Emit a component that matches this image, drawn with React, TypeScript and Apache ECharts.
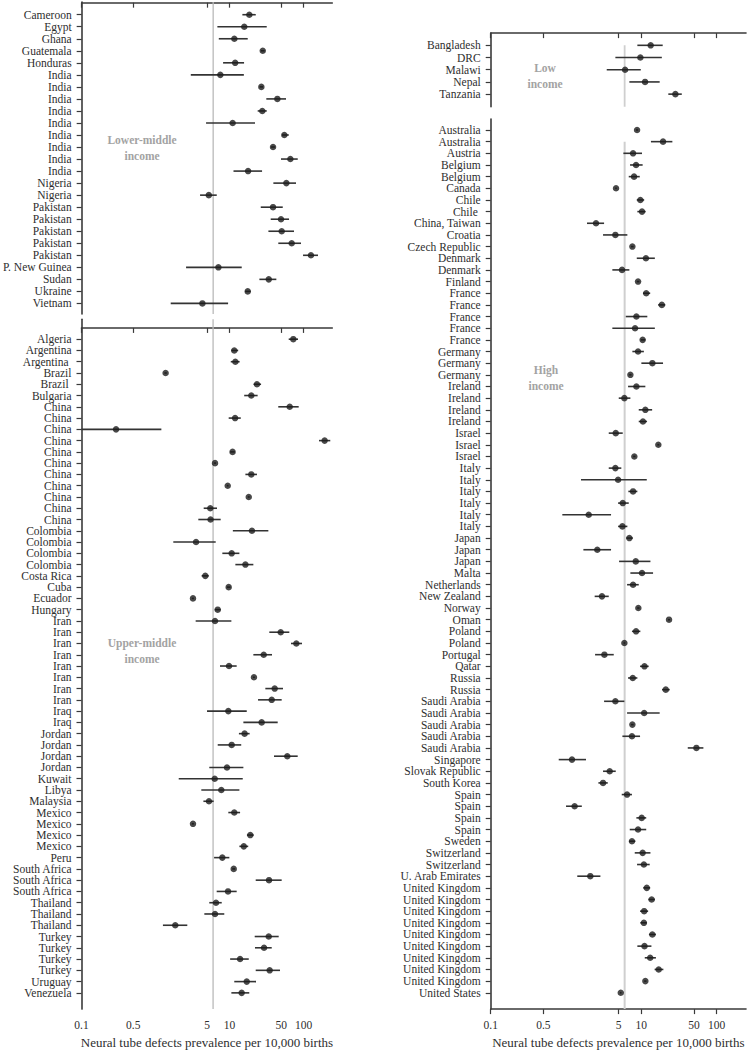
import React, { useEffect, useRef } from "react";
import * as echarts from "echarts";

// ---------- DATA ----------
const X_TICKS = [0.1, 0.5, 5, 10, 50, 100];
const X_TICK_LABELS = ["0.1", "0.5", "5", "10", "50", "100"];
const X_MIN = 0.1;
const X_MAX = 245;
const REF_VALUE = 6;
const X_TITLE = "Neural tube defects prevalence per 10,000 births";

const LM_NAMES = ["Cameroon", "Egypt", "Ghana", "Guatemala", "Honduras", "India", "India", "India", "India", "India", "India", "India", "India", "India", "Nigeria", "Nigeria", "Pakistan", "Pakistan", "Pakistan", "Pakistan", "Pakistan", "P. New Guinea", "Sudan", "Ukraine", "Vietnam"];
const LM_EST = [18.5, 15.8, 11.6, 28.1, 11.9, 7.5, 26.9, 44.3, 27.7, 11.0, 55.0, 38.7, 66.4, 17.8, 58.6, 5.24, 38.7, 49.6, 50.7, 69.2, 126, 7.06, 33.9, 17.6, 4.29];
const LM_LO = [14.9, 6.84, 7.15, 26.5, 8.17, 2.99, 25.5, 31.4, 24.0, 4.81, 51.2, 36.5, 49.6, 11.3, 39.1, 3.99, 26.4, 36.0, 33.5, 45.6, 98.5, 2.58, 25.3, 16.2, 1.6];
const LM_HI = [22.6, 31.8, 17.6, 29.8, 15.7, 15.6, 28.4, 58.0, 31.8, 22.1, 63.1, 41.0, 83.5, 27.5, 79.2, 6.71, 52.4, 63.7, 74.4, 92.5, 157, 14.6, 42.9, 19.3, 9.55];

const UM_NAMES = ["Algeria", "Argentina", "Argentina ", "Brazil", "Brazil ", "Bulgaria", "China", "China", "China", "China", "China", "China", "China", "China", "China", "China", "China", "Colombia", "Colombia", "Colombia", "Colombia", "Costa Rica", "Cuba", "Ecuador", "Hungary", "Iran", "Iran", "Iran", "Iran", "Iran", "Iran", "Iran", "Iran", "Iraq", "Iraq", "Jordan", "Jordan", "Jordan", "Jordan", "Kuwait", "Libya", "Malaysia", "Mexico", "Mexico", "Mexico", "Mexico", "Peru", "South Africa", "South Africa", "South Africa", "Thailand", "Thailand", "Thailand", "Turkey", "Turkey", "Turkey", "Turkey", "Uruguay", "Venezuela"];
const UM_EST = [72.8, 11.6, 12.0, 1.37, 23.5, 19.7, 65.1, 11.9, 0.293, 193, 11.0, 6.37, 19.7, 9.46, 18.2, 5.5, 5.55, 20.1, 3.53, 10.7, 16.4, 4.71, 9.75, 3.21, 6.93, 6.37, 49.2, 80, 29.0, 9.85, 21.4, 40.8, 37.2, 9.64, 27.2, 16.0, 10.7, 60.4, 9.25, 6.31, 7.75, 5.28, 11.6, 3.21, 19.1, 15.6, 8.0, 11.4, 34.2, 9.55, 6.57, 6.37, 1.85, 33.9, 29.3, 13.9, 34.9, 17.1, 14.6];
const UM_LO = [63.1, 10.6, 10.4, 1.32, 21.2, 15.8, 45.6, 9.75, 0.1, 162, 10.2, 6.2, 16.4, 9.2, 17.7, 4.48, 3.79, 11.1, 1.74, 8.0, 12.0, 4.2, 9.2, 3.1, 6.31, 3.49, 34.5, 67.8, 21.0, 7.44, 20.8, 30.5, 24.3, 4.97, 15.4, 13.4, 6.93, 39.9, 5.33, 2.06, 4.16, 4.44, 9.64, 3.1, 17.2, 13.6, 6.19, 10.9, 22.6, 6.71, 5.33, 4.57, 1.26, 21.9, 22.1, 10.2, 22.6, 11.6, 10.6];
const UM_HI = [84.3, 13.1, 13.7, 1.42, 26.7, 24.0, 86.1, 14.2, 1.2, 230, 11.8, 6.55, 23.5, 9.7, 18.7, 6.78, 7.6, 33.5, 6.51, 13.6, 21.0, 5.24, 10.3, 3.3, 7.6, 10.6, 64.3, 95.4, 37.5, 12.5, 22.0, 52.8, 50.7, 17.1, 44.8, 18.7, 14.4, 83.5, 15.4, 15.1, 13.6, 6.11, 13.9, 3.3, 21.2, 17.9, 9.95, 11.9, 50.7, 12.5, 7.85, 8.5, 2.69, 46.2, 37.2, 18.2, 48.1, 22.8, 18.5];

const LOW_NAMES = ["Bangladesh", "DRC", "Malawi", "Nepal", "Tanzania"];
const LOW_EST = [13.3, 9.7, 6.08, 11.2, 28.3];
const LOW_LO = [8.85, 4.52, 3.47, 6.93, 22.8];
const LOW_HI = [19.2, 18.7, 9.82, 17.5, 34.4];

const HI_NAMES = ["Australia", "Australia", "Austria", "Belgium", "Belgium", "Canada", "Chile", "Chile ", "China, Taiwan", "Croatia", "Czech Republic", "Denmark", "Denmark", "Finland", "France", "France", "France", "France", "France", "Germany", "Germany", "Germany", "Ireland", "Ireland", "Ireland", "Ireland", "Israel", "Israel", "Israel", "Italy", "Italy", "Italy", "Italy", "Italy", "Italy", "Japan", "Japan", "Japan", "Malta", "Netherlands", "New Zealand", "Norway", "Oman", "Poland", "Poland", "Portugal", "Qatar", "Russia", "Russia", "Saudi Arabia", "Saudi Arabia", "Saudi Arabia", "Saudi Arabia", "Saudi Arabia", "Singapore", "Slovak Republic", "South Korea", "Spain", "Spain", "Spain", "Spain", "Sweden", "Switzerland", "Switzerland", "U. Arab Emirates", "United Kingdom", "United Kingdom", "United Kingdom", "United Kingdom", "United Kingdom", "United Kingdom", "United Kingdom", "United Kingdom", "United Kingdom", "United States"];
const HI_EST = [8.77, 19.4, 7.76, 8.5, 8.0, 4.61, 9.7, 10.2, 2.5, 4.52, 7.6, 11.5, 5.54, 9.04, 11.6, 18.7, 8.59, 8.25, 10.4, 9.04, 14.0, 7.15, 8.59, 5.95, 11.3, 10.5, 4.57, 16.8, 8.07, 4.52, 4.91, 7.76, 5.66, 2.0, 5.6, 6.93, 2.6, 8.43, 10.2, 7.76, 3.0, 9.12, 23.3, 8.5, 5.95, 3.23, 11.0, 7.69, 21.1, 4.52, 10.9, 7.6, 7.5, 53.8, 1.2, 3.8, 3.1, 6.46, 1.3, 10.1, 9.04, 7.5, 10.4, 10.8, 2.1, 11.8, 13.7, 10.9, 10.8, 14.0, 11.0, 13.1, 17.0, 11.3, 5.33];
const HI_LO = [8.5, 13.4, 5.77, 7.08, 6.8, 4.5, 8.69, 8.85, 1.9, 3.1, 7.3, 8.69, 4.12, 8.7, 10.5, 16.7, 6.21, 4.12, 9.8, 7.6, 10.0, 6.9, 6.66, 5.01, 9.23, 9.23, 3.69, 16.3, 7.8, 3.69, 1.58, 6.72, 4.91, 0.893, 4.91, 6.3, 1.7, 5.06, 7.15, 6.46, 2.4, 8.8, 22.6, 7.5, 5.8, 2.43, 9.61, 6.66, 18.8, 3.2, 6.46, 7.3, 5.6, 41.3, 0.8, 3.1, 2.69, 5.49, 1.0, 8.59, 7.01, 6.87, 8.17, 8.77, 1.41, 10.6, 12.4, 9.61, 9.7, 12.6, 8.85, 11.1, 15.0, 10.9, 5.2];
const HI_HI = [9.05, 25.8, 10.2, 10.4, 9.52, 4.72, 10.9, 11.4, 3.2, 6.52, 7.9, 15.1, 6.93, 9.4, 13.1, 20.8, 12.0, 15.1, 11.3, 10.8, 19.4, 7.4, 11.3, 7.15, 13.9, 11.9, 5.66, 17.3, 8.35, 5.42, 11.8, 8.85, 6.8, 3.96, 6.52, 7.7, 3.96, 13.2, 14.3, 9.23, 3.69, 9.45, 24.0, 9.7, 6.1, 4.3, 12.5, 8.85, 23.8, 5.95, 17.5, 7.9, 9.61, 66.6, 1.84, 4.57, 3.58, 7.5, 1.62, 11.6, 11.6, 8.33, 13.2, 12.9, 2.86, 13.1, 15.1, 12.3, 11.8, 15.6, 13.6, 15.6, 19.6, 11.7, 5.45];

// ---------- PANELS ----------
type Panel = {
  names: string[]; est: number[]; lo: number[]; hi: number[];
  left: number; top: number; width: number; height: number;
  yMin: number; yMax: number; refFrom: number; showXLabels: boolean;
  refColor: string; refWidth: number;
};

const PANELS: Panel[] = [
  { names: LM_NAMES, est: LM_EST, lo: LM_LO, hi: LM_HI, left: 81.5, top: 2, width: 250.8, height: 312, yMin: -0.056, yMax: 25.88, refFrom: -0.056, showXLabels: false, refColor: "#b9b9b9", refWidth: 1.3 },
  { names: UM_NAMES, est: UM_EST, lo: UM_LO, hi: UM_HI, left: 81.5, top: 319.3, width: 250.8, height: 694, yMin: -0.764, yMax: 60.44, refFrom: -0.764, showXLabels: true, refColor: "#b9b9b9", refWidth: 1.3 },
  { names: LOW_NAMES, est: LOW_EST, lo: LOW_LO, hi: LOW_HI, left: 490.7, top: 33, width: 255.3, height: 73.7, yMin: -0.01, yMax: 6.03, refFrom: 1, showXLabels: false, refColor: "#cfcfcf", refWidth: 1.8 },
  { names: HI_NAMES, est: HI_EST, lo: HI_LO, hi: HI_HI, left: 490.7, top: 119, width: 255.3, height: 891, yMin: 0.057, yMax: 76.4, refFrom: 2, showXLabels: true, refColor: "#cfcfcf", refWidth: 2 },
];

const GROUP_LABELS = [
  { lines: ["Lower-middle", "income"], x: 142, y: 140 },
  { lines: ["Upper-middle", "income"], x: 142, y: 643 },
  { lines: ["Low", "income"], x: 545, y: 68 },
  { lines: ["High", "income"], x: 546, y: 370 },
];

const FONT = "'Liberation Serif', 'DejaVu Serif', serif";
const AXIS_COLOR = "#3a3a3a";
const TEXT_COLOR = "#2e2e2e";

function tickLabel(v: number): string {
  let best = 0;
  for (let i = 0; i < X_TICKS.length; i++) {
    if (Math.abs(Math.log(X_TICKS[i]) - Math.log(v)) < Math.abs(Math.log(X_TICKS[best]) - Math.log(v))) best = i;
  }
  return X_TICK_LABELS[best];
}

function buildOption() {
  const grid: any[] = [];
  const xAxis: any[] = [];
  const yAxis: any[] = [];
  const series: any[] = [];

  PANELS.forEach((p, i) => {
    grid.push({ left: p.left, top: p.top, width: p.width, height: p.height, containLabel: false });
    xAxis.push({
      type: "log",
      logBase: 10,
      gridIndex: i,
      min: X_MIN,
      max: X_MAX,
      axisLine: { show: true, lineStyle: { color: AXIS_COLOR, width: 1.6 } },
      axisTick: { show: true, length: 5, lineStyle: { color: AXIS_COLOR, width: 1.2 }, customValues: X_TICKS },
      axisLabel: {
        show: p.showXLabels,
        customValues: X_TICKS,
        formatter: (v: number) => tickLabel(v),
        fontFamily: FONT,
        fontSize: 11.5,
        color: TEXT_COLOR,
        margin: 10,
        showMinLabel: true,
        showMaxLabel: true,
        hideOverlap: false,
      },
      minorTick: { show: false },
      splitLine: { show: false },
      name: p.showXLabels ? X_TITLE : "",
      nameLocation: "middle",
      nameGap: 25,
      nameTextStyle: { fontFamily: FONT, fontSize: 13, color: TEXT_COLOR },
    });
    const rows = p.names.map((_, k) => k + 1);
    // dummy (empty) labels at the axis ends absorb ECharts' min/max label hiding
    const labelValues = [p.yMin, ...rows, p.yMax];
    yAxis.push({
      type: "value",
      gridIndex: i,
      inverse: true,
      min: p.yMin,
      max: p.yMax,
      axisLine: { show: true, lineStyle: { color: AXIS_COLOR, width: 1.6 } },
      axisTick: { show: true, length: 5, lineStyle: { color: AXIS_COLOR, width: 1.2 }, customValues: rows },
      axisLabel: {
        show: true,
        customValues: labelValues,
        formatter: (v: number) => {
          const r = Math.round(v);
          if (Math.abs(v - r) > 0.01) return "";
          return p.names[r - 1] ?? "";
        },
        fontFamily: FONT,
        fontSize: 11.5,
        color: TEXT_COLOR,
        margin: 10,
        showMinLabel: false,
        showMaxLabel: false,
        hideOverlap: false,
      },
      splitLine: { show: false },
    });

    // reference line
    series.push({
      type: "line",
      xAxisIndex: i,
      yAxisIndex: i,
      data: [[REF_VALUE, p.refFrom], [REF_VALUE, p.yMax]],
      symbol: "none",
      lineStyle: { color: p.refColor, width: p.refWidth },
      z: 1,
      silent: true,
    });

    // error bars
    series.push({
      type: "custom",
      xAxisIndex: i,
      yAxisIndex: i,
      data: p.names.map((_, k) => [p.lo[k], p.hi[k], k + 1]),
      encode: { x: [0, 1], y: 2 },
      renderItem: (params: any, api: any) => {
        const a = api.coord([api.value(0), api.value(2)]);
        const b = api.coord([api.value(1), api.value(2)]);
        return {
          type: "line",
          shape: { x1: a[0], y1: a[1], x2: b[0], y2: b[1] },
          style: { stroke: "#333333", lineWidth: 1.6 },
        };
      },
      z: 2,
      silent: true,
    });

    // points
    series.push({
      type: "scatter",
      xAxisIndex: i,
      yAxisIndex: i,
      data: p.names.map((_, k) => [p.est[k], k + 1]),
      symbol: "circle",
      symbolSize: 6.5,
      itemStyle: { color: "#1c1c1c" },
      z: 3,
      silent: true,
    });
  });

  const graphic: any[] = [];
  GROUP_LABELS.forEach((g) => {
    g.lines.forEach((line, j) => {
      graphic.push({
        type: "text",
        x: g.x,
        y: g.y + j * 16,
        style: {
          text: line,
          fill: "#a3a3a3",
          font: `bold 11.5px ${FONT}`,
          textAlign: "center",
          textVerticalAlign: "middle",
        },
      });
    });
  });

  return {
    animation: false,
    backgroundColor: "#ffffff",
    grid,
    xAxis,
    yAxis,
    series,
    graphic,
  };
}

export default function App() {
  const ref = useRef<HTMLDivElement>(null);
  useEffect(() => {
    document.body.style.margin = "0";
    if (!ref.current) return;
    const chart = echarts.init(ref.current, undefined, { renderer: "svg" });
    chart.setOption(buildOption());
    return () => chart.dispose();
  }, []);
  return <div ref={ref} style={{ width: 750, height: 1054 }} />;
}
